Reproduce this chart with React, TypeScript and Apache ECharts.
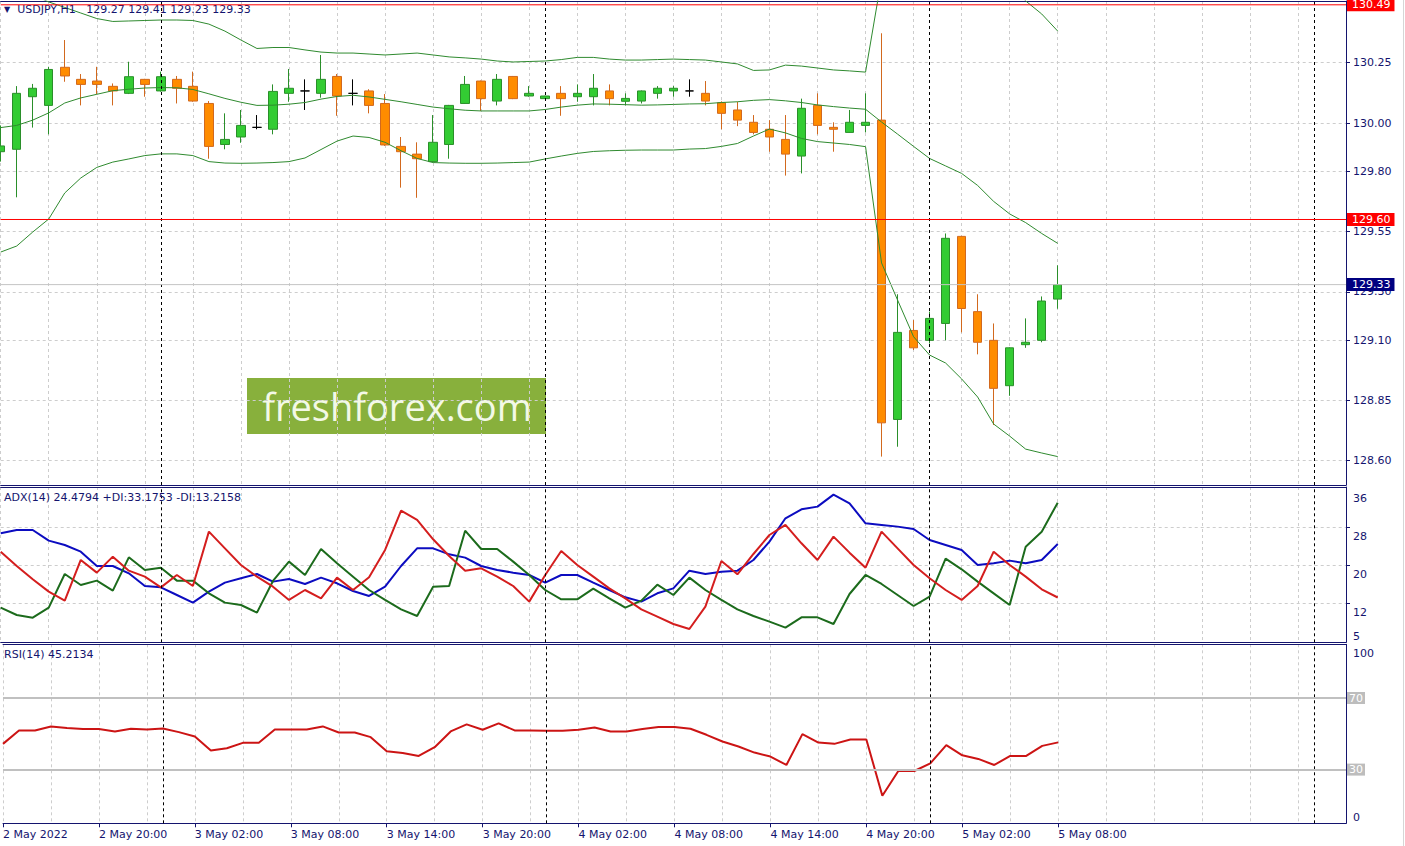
import React, { useEffect, useRef } from 'react';
import * as echarts from 'echarts';

const FONT = 'DejaVu Sans';
const NAVY = '#14146e';
const GRID_GREY = '#cdcdcd';

const categories = [
  '2 May 14:00', '2 May 15:00', '2 May 16:00', '2 May 17:00', '2 May 18:00', '2 May 19:00', '2 May 20:00', '2 May 21:00', '2 May 22:00', '2 May 23:00',
  '3 May 00:00', '3 May 01:00', '3 May 02:00', '3 May 03:00', '3 May 04:00', '3 May 05:00', '3 May 06:00', '3 May 07:00', '3 May 08:00', '3 May 09:00', '3 May 10:00', '3 May 11:00',
  '3 May 12:00', '3 May 13:00', '3 May 14:00', '3 May 15:00', '3 May 16:00', '3 May 17:00', '3 May 18:00', '3 May 19:00', '3 May 20:00', '3 May 21:00', '3 May 22:00', '3 May 23:00',
  '4 May 00:00', '4 May 01:00', '4 May 02:00', '4 May 03:00', '4 May 04:00', '4 May 05:00', '4 May 06:00', '4 May 07:00', '4 May 08:00', '4 May 09:00', '4 May 10:00', '4 May 11:00',
  '4 May 12:00', '4 May 13:00', '4 May 14:00', '4 May 15:00', '4 May 16:00', '4 May 17:00', '4 May 18:00', '4 May 19:00', '4 May 20:00', '4 May 21:00', '4 May 22:00', '4 May 23:00',
  '5 May 00:00', '5 May 01:00', '5 May 02:00', '5 May 03:00', '5 May 04:00', '5 May 05:00', '5 May 06:00', '5 May 07:00', '5 May 08:00', '5 May 09:00', '5 May 10:00', '5 May 11:00',
  '5 May 12:00', '5 May 13:00', '5 May 14:00', '5 May 15:00', '5 May 16:00', '5 May 17:00', '5 May 18:00', '5 May 19:00', '5 May 20:00', '5 May 21:00', '5 May 22:00', '5 May 23:00',
  '6 May 00:00', '6 May 01:00', '6 May 02:00',
];

const opens = [
  129.881, 129.891, 130.109, 130.073, 130.231, 130.181, 130.174, 130.152, 130.123, 130.181,
  130.133, 130.181, 130.152, 130.081, 129.911, 129.942, 129.982, 129.974, 130.123, 130.133,
  130.123, 130.193, 130.123, 130.133, 130.081, 129.903, 129.871, 129.84, 129.911, 130.081,
  130.174, 130.091, 130.193, 130.112, 130.101, 130.123, 130.109, 130.109, 130.133, 130.09,
  130.091, 130.123, 130.133, 130.133, 130.123, 130.084, 130.054, 130.003, 129.974, 129.932,
  129.863, 130.073, 129.982, 129.961, 129.99, 130.012, 128.771, 129.14, 129.099, 129.169,
  129.53, 129.218, 129.099, 128.911, 129.081, 129.099, 129.27,
];
const highs = [
  129.99, 130.153, 130.162, 130.233, 130.344, 130.203, 130.233, 130.164, 130.254, 130.183,
  130.213, 130.195, 130.213, 130.091, 130.04, 130.054, 130.033, 130.16, 130.224, 130.181,
  130.282, 130.203, 130.181, 130.14, 130.12, 129.942, 129.92, 130.033, 130.075, 130.195,
  130.176, 130.203, 130.195, 130.153, 130.113, 130.153, 130.16, 130.203, 130.16, 130.123,
  130.135, 130.153, 130.153, 130.181, 130.174, 130.09, 130.088, 130.033, 130.012, 130.033,
  130.101, 130.123, 130.003, 130.054, 130.123, 130.372, 129.29, 129.183, 129.218, 129.542,
  129.532, 129.29, 129.169, 129.07, 129.19, 129.281, 129.41,
];
const lows = [
  129.84, 129.692, 129.981, 129.953, 130.171, 130.073, 130.119, 130.073, 130.12, 130.109,
  130.13, 130.081, 130.088, 129.852, 129.891, 129.918, 129.974, 129.953, 130.088, 130.054,
  130.105, 130.03, 130.073, 130.04, 129.905, 129.732, 129.69, 129.837, 129.852, 130.079,
  130.05, 130.073, 130.099, 130.109, 130.1, 130.03, 130.088, 130.073, 130.073, 130.073,
  130.081, 130.101, 130.109, 130.109, 130.073, 129.974, 129.987, 129.953, 129.881, 129.782,
  129.791, 129.953, 129.881, 129.96, 129.961, 128.617, 128.658, 129.059, 129.086, 129.099,
  129.132, 129.041, 128.748, 128.869, 129.068, 129.091, 129.23,
];
const closes = [
  129.905, 130.123, 130.144, 130.222, 130.195, 130.16, 130.16, 130.133, 130.192, 130.16,
  130.192, 130.144, 130.091, 129.903, 129.932, 129.99, 129.982, 130.131, 130.144, 130.133,
  130.181, 130.112, 130.123, 130.073, 129.909, 129.881, 129.852, 129.92, 130.073, 130.16,
  130.101, 130.181, 130.101, 130.123, 130.112, 130.101, 130.123, 130.144, 130.101, 130.102,
  130.133, 130.144, 130.144, 130.133, 130.091, 130.04, 130.012, 129.961, 129.942, 129.871,
  130.061, 129.99, 129.974, 130.003, 130.003, 128.757, 129.132, 129.068, 129.19, 129.522,
  129.231, 129.091, 128.9, 129.068, 129.091, 129.262, 129.33,
];

const bbUpper = [
  130.614, 130.572, 130.531, 130.502, 130.479, 130.456, 130.433, 130.421, 130.423, 130.425,
  130.427, 130.427, 130.425, 130.41, 130.381, 130.344, 130.309, 130.313, 130.313, 130.303,
  130.294, 130.29, 130.29, 130.286, 130.282, 130.286, 130.29, 130.282, 130.274, 130.27,
  130.265, 130.257, 130.253, 130.255, 130.257, 130.263, 130.272, 130.272, 130.265, 130.261,
  130.261, 130.263, 130.265, 130.263, 130.261, 130.253, 130.245, 130.218, 130.22, 130.24,
  130.236, 130.228, 130.22, 130.216, 130.211, 130.6, 130.68, 130.72, 130.74, 130.76,
  130.74, 130.7, 130.64, 130.575, 130.506, 130.452, 130.381,
];
const bbMiddle = [
  129.981, 129.99, 130.012, 130.042, 130.083, 130.104, 130.119, 130.134, 130.14, 130.145,
  130.147, 130.146, 130.139, 130.121, 130.102, 130.086, 130.073, 130.074, 130.078, 130.085,
  130.099, 130.11, 130.115, 130.108, 130.098, 130.088, 130.077, 130.066, 130.059, 130.053,
  130.05, 130.05, 130.05, 130.05, 130.056, 130.066, 130.074, 130.079, 130.078, 130.076,
  130.074, 130.075, 130.077, 130.079, 130.08, 130.085, 130.088, 130.094, 130.097, 130.092,
  130.085, 130.075, 130.068, 130.062, 130.057, 130.004, 129.954, 129.903, 129.853, 129.822,
  129.791, 129.741, 129.675, 129.623, 129.587, 129.542, 129.501,
];
const bbLower = [
  129.465, 129.49, 129.548, 129.602, 129.71, 129.772, 129.816, 129.838, 129.851, 129.865,
  129.872, 129.872, 129.865, 129.84, 129.834, 129.833, 129.834, 129.836, 129.84, 129.855,
  129.89, 129.925, 129.946, 129.94, 129.92, 129.885, 129.853, 129.836, 129.834, 129.833,
  129.833, 129.834, 129.836, 129.838, 129.851, 129.863, 129.874, 129.882, 129.885, 129.887,
  129.888, 129.888, 129.888, 129.892, 129.894, 129.903, 129.915, 129.946, 129.975, 129.959,
  129.936, 129.923, 129.917, 129.911, 129.902, 129.42, 129.266, 129.114, 129.038, 129.005,
  128.939, 128.864, 128.752, 128.702, 128.648, 128.632, 128.617,
];

const adxValues = [
  26.73, 27.43, 27.43, 25.19, 24.28, 22.87, 19.85, 19.85, 18.31, 15.64,
  15.36, 13.75, 12.14, 14.45, 16.35, 17.26, 18.17, 16.56, 17.12, 16.07,
  17.4, 16.21, 14.59, 13.54, 15.5, 19.85, 23.57, 23.57, 22.31, 21.61,
  19.85, 19.01, 18.45, 17.96, 16.35, 17.96, 17.96, 16.35, 14.8, 13.26,
  12.35, 14.1, 15.15, 18.87, 18.17, 18.66, 18.87, 21.12, 24.98, 29.89,
  31.78, 32.35, 34.87, 33.05, 28.84, 28.49, 28.14, 27.64, 25.33, 24.28,
  23.22, 20.07, 20.42, 20.98, 20.42, 21.12, 24.48,
];
const plusDI = [
  11.08, 9.54, 8.98, 11.08, 18.17, 15.85, 16.77, 14.66, 21.68, 19.01,
  19.5, 16.77, 16.77, 14.1, 12.14, 11.64, 10.03, 16.7, 20.77, 17.96,
  23.43, 20.42, 17.61, 14.8, 12.7, 10.73, 9.33, 15.5, 15.64, 27.29,
  23.43, 23.43, 20.77, 17.96, 14.8, 12.84, 12.84, 15.08, 13.05, 11.08,
  12.56, 15.92, 13.75, 17.4, 14.8, 12.7, 10.73, 9.33, 8.14, 6.87,
  9.05, 9.05, 7.64, 13.96, 17.96, 16.07, 13.75, 11.43, 13.4, 21.4,
  19.15, 16.56, 14.1, 11.64, 23.92, 27.08, 33.18,
];
const minusDI = [
  22.87, 19.85, 17.05, 14.45, 12.56, 21.12, 18.45, 21.82, 18.87, 17.61,
  15.36, 17.96, 15.64, 27.08, 23.57, 20.07, 17.61, 15.5, 12.7, 14.8,
  13.05, 17.4, 14.8, 17.47, 23.22, 31.5, 29.54, 25.47, 21.96, 18.87,
  19.36, 17.61, 15.64, 12.35, 17.96, 23.01, 20.07, 17.61, 15.15, 13.05,
  10.73, 9.19, 7.64, 6.59, 11.29, 20.91, 18.1, 22.38, 26.38, 28.49,
  24.63, 21.12, 26.03, 22.66, 19.5, 27.08, 23.57, 20.07, 17.26, 14.8,
  12.7, 15.64, 22.87, 20.07, 17.61, 14.94, 13.22,
];
const rsiValues = [
  44.38, 51.88, 51.88, 54.12, 53.19, 52.62, 52.62, 51.31, 52.81, 52.44,
  53.0, 50.94, 48.5, 40.64, 41.95, 44.95, 44.95, 52.44, 52.44, 52.44,
  54.12, 50.75, 50.75, 48.13, 40.27, 39.33, 37.64, 42.51, 51.31, 55.25,
  52.25, 55.81, 51.88, 51.88, 51.69, 51.69, 52.25, 53.56, 51.31, 51.31,
  52.62, 53.75, 53.75, 52.81, 49.44, 45.69, 42.88, 39.51, 37.27, 32.59,
  49.81, 45.13, 44.38, 46.82, 46.82, 15.36, 29.22, 29.22, 33.52, 43.63,
  38.0, 35.96, 32.59, 37.64, 37.64, 43.25, 45.21,
];

const priceTicks = [128.6, 128.85, 129.1, 129.3, 129.55, 129.8, 130.0, 130.25];
const adxLabelTicks = [36, 28, 20, 12];
const adxGridTicks = [28, 20, 12];
const adxLowLabel = [5];
const rsiTopLabel = [100];
const rsiBottomLabel = [0];
const rsiLevels = [70, 30];
const redLevels = [130.49, 129.6];
const currentPrice = 129.33;
const daySeparators = [10, 34, 58, 82];
const lastBar = 66;

const headerText = 'USDJPY,H1   129.27 129.41 129.23 129.33';
const adxText = 'ADX(14) 24.4794 +DI:33.1753 -DI:13.2158';
const rsiText = 'RSI(14) 45.2134';

const PRICE_MIN = 128.4993;
const PRICE_MAX = 130.5058;
const ADX_MIN = 3.79;
const ADX_MAX = 36.48;

export default function App() {
  const ref = useRef<HTMLDivElement>(null);

  useEffect(() => {
    document.body.style.margin = '0';
    if (!ref.current) return;
    const chart = echarts.init(ref.current, undefined, { renderer: 'svg' });

    const candleData = opens.map((o, i) => [o, closes[i], lows[i], highs[i]]);
    const gridLeft = 0.7;
    const gridWidth = 1345.3;
    const firstCat = categories[0];
    const lastCat = categories[categories.length - 1];

    const vSplit = {
      show: true,
      interval: (i: number) => i % 3 === 0,
      lineStyle: { color: GRID_GREY, type: [3, 3] as any, width: 1 },
    };
    const navyLine = () => ({ show: true, onZero: false, lineStyle: { color: NAVY, width: 1 } });

    const bottomX = (gridIndex: number, labels: boolean) => ({
      type: 'category',
      gridIndex,
      data: categories,
      boundaryGap: false,
      axisLine: navyLine(),
      axisTick: labels
        ? { show: true, interval: (i: number) => i % 6 === 0 && i <= lastBar, length: 4, lineStyle: { color: NAVY } }
        : { show: false },
      axisLabel: labels
        ? {
            show: true,
            interval: (i: number) => i % 6 === 0 && i <= lastBar,
            formatter: (v: string, i: number) => (i === 0 ? '2 May 2022' : v),
            align: 'left',
            margin: 6,
            color: NAVY,
            fontSize: 11,
            fontFamily: FONT,
          }
        : { show: false },
      splitLine: vSplit,
    });
    const topX = (gridIndex: number) => ({
      type: 'category',
      gridIndex,
      data: categories,
      boundaryGap: false,
      position: 'top',
      axisLine: navyLine(),
      axisTick: { show: false },
      axisLabel: { show: false },
      splitLine: { show: false },
    });

    const sepMarkLine = () => ({
      silent: true,
      symbol: ['none', 'none'],
      lineStyle: { color: '#000000', type: [3, 3], width: 1 },
      label: { show: false },
      data: daySeparators.map((i) => ({ xAxis: categories[i] })),
    });

    const boxLabel = (bg: string) => ({
      show: true,
      position: 'end',
      formatter: (p: any) => Number(p.value).toFixed(2),
      color: '#ffffff',
      backgroundColor: bg,
      padding: [1, 4, 1, 5],
      distance: 1,
      fontSize: 11,
      fontFamily: FONT,
    });

    const levelSeries = (name: string, v: number, color: string, bg: string) => ({
      name,
      type: 'line',
      xAxisIndex: 0,
      yAxisIndex: 0,
      data: [
        [firstCat, v],
        [lastCat, v],
      ],
      symbol: 'none',
      color,
      lineStyle: { color, width: 1, type: 'solid' },
      z: 10,
      markLine: {
        silent: true,
        symbol: ['none', 'none'],
        lineStyle: { color: 'rgba(255,255,255,0)', width: 1 },
        label: boxLabel(bg),
        data: [{ yAxis: v }],
      },
    });

    const labelTopPad = [4, 0, 0, 0];

    const option: any = {
      animation: false,
      backgroundColor: '#ffffff',
      textStyle: { fontFamily: FONT },
      title: [
        {
          text: '{t|▼}  ' + headerText,
          left: 4,
          top: 4,
          padding: 0,
          textStyle: {
            fontSize: 11,
            fontWeight: 'normal',
            color: NAVY,
            fontFamily: FONT,
            rich: { t: { fontSize: 8, color: NAVY, fontFamily: FONT } },
          },
        },
        {
          text: adxText,
          left: 4,
          top: 492,
          padding: 0,
          textStyle: { fontSize: 11, fontWeight: 'normal', color: NAVY, fontFamily: FONT },
        },
        {
          text: rsiText,
          left: 4,
          top: 649,
          padding: 0,
          textStyle: { fontSize: 11, fontWeight: 'normal', color: NAVY, fontFamily: FONT },
        },
      ],
      grid: [
        { left: gridLeft, width: gridWidth, top: 1, height: 484 },
        { left: gridLeft, width: gridWidth, top: 487, height: 155.3 },
        { left: gridLeft, width: gridWidth, top: 644.3, height: 179 },
      ],
      xAxis: [bottomX(0, false), topX(0), bottomX(1, false), topX(1), bottomX(2, true), topX(2)],
      yAxis: [
        {
          type: 'value',
          gridIndex: 0,
          position: 'right',
          min: PRICE_MIN,
          max: PRICE_MAX,
          axisLine: navyLine(),
          axisTick: { show: true, customValues: priceTicks, length: 4, lineStyle: { color: NAVY } },
          axisLabel: {
            customValues: priceTicks,
            formatter: (v: number) => v.toFixed(2),
            color: NAVY,
            fontSize: 11,
            fontFamily: FONT,
            margin: 7,
          },
          splitLine: { show: true, lineStyle: { color: GRID_GREY, type: [3, 3], width: 1 } },
        },
        {
          type: 'value',
          gridIndex: 1,
          position: 'right',
          min: ADX_MIN,
          max: ADX_MAX,
          axisLine: navyLine(),
          axisTick: { show: true, customValues: adxGridTicks, length: 4, lineStyle: { color: NAVY } },
          axisLabel: {
            customValues: adxLabelTicks,
            color: NAVY,
            fontSize: 11,
            fontFamily: FONT,
            margin: 7,
            verticalAlign: 'top',
            padding: labelTopPad,
          },
          splitLine: { show: true, lineStyle: { color: GRID_GREY, type: [3, 3], width: 1 } },
        },
        {
          type: 'value',
          gridIndex: 1,
          position: 'right',
          min: ADX_MIN,
          max: ADX_MAX,
          axisLine: { show: false },
          axisTick: { show: false },
          axisLabel: {
            customValues: adxLowLabel,
            color: NAVY,
            fontSize: 11,
            fontFamily: FONT,
            margin: 7,
            verticalAlign: 'middle',
          },
          splitLine: { show: false },
        },
        {
          type: 'value',
          gridIndex: 2,
          position: 'right',
          min: 0,
          max: 100,
          axisLine: navyLine(),
          axisTick: { show: false },
          axisLabel: {
            customValues: rsiTopLabel,
            color: NAVY,
            fontSize: 11,
            fontFamily: FONT,
            margin: 7,
            verticalAlign: 'top',
            padding: labelTopPad,
          },
          splitLine: { show: false },
        },
        {
          type: 'value',
          gridIndex: 2,
          position: 'right',
          min: 0,
          max: 100,
          axisLine: { show: false },
          axisTick: { show: false },
          axisLabel: {
            customValues: rsiBottomLabel,
            color: NAVY,
            fontSize: 11,
            fontFamily: FONT,
            margin: 7,
            verticalAlign: 'bottom',
          },
          splitLine: { show: false },
        },
      ],
      series: [
        levelSeries('Current price', currentPrice, '#c4c4c4', '#000080'),
        ...redLevels.map((v, i) => levelSeries('Level ' + (i + 1), v, '#ff0000', '#ff0000')),
        {
          name: 'USDJPY',
          type: 'candlestick',
          xAxisIndex: 0,
          yAxisIndex: 0,
          data: candleData,
          barWidth: 9,
          z: 3,
          itemStyle: {
            color: '#33cc33',
            color0: '#ff8c00',
            borderColor: '#2a8f2a',
            borderColor0: '#d2691e',
            borderColorDoji: '#000000',
            borderWidth: 1,
          },
          markLine: sepMarkLine(),
        },
        ...[bbUpper, bbMiddle, bbLower].map((d, i) => ({
          name: ['BB upper', 'BB middle', 'BB lower'][i],
          type: 'line',
          xAxisIndex: 0,
          yAxisIndex: 0,
          data: d,
          symbol: 'none',
          color: '#2f8a2f',
          lineStyle: { color: '#2f8a2f', width: 1 },
          z: 4,
        })),
        {
          name: 'ADX',
          type: 'line',
          xAxisIndex: 2,
          yAxisIndex: 1,
          data: adxValues,
          symbol: 'none',
          lineStyle: { color: '#0c0cc0', width: 2 },
          markLine: sepMarkLine(),
        },
        {
          name: '+DI',
          type: 'line',
          xAxisIndex: 2,
          yAxisIndex: 1,
          data: plusDI,
          symbol: 'none',
          lineStyle: { color: '#1c6b1c', width: 2 },
        },
        {
          name: '-DI',
          type: 'line',
          xAxisIndex: 2,
          yAxisIndex: 1,
          data: minusDI,
          symbol: 'none',
          lineStyle: { color: '#d41e1e', width: 2 },
        },
        {
          name: 'RSI',
          type: 'line',
          xAxisIndex: 4,
          yAxisIndex: 3,
          data: rsiValues,
          symbol: 'none',
          lineStyle: { color: '#cc1414', width: 2 },
          z: 3,
          markLine: sepMarkLine(),
        },
        {
          name: 'RSI levels',
          type: 'line',
          xAxisIndex: 4,
          yAxisIndex: 3,
          data: [],
          symbol: 'none',
          z: 2,
          markLine: {
            silent: true,
            symbol: ['none', 'none'],
            lineStyle: { color: '#c0c0c0', type: 'solid', width: 2 },
            label: {
              show: true,
              position: 'end',
              formatter: (p: any) => String(p.value),
              color: '#ffffff',
              backgroundColor: '#bdbdbd',
              padding: [1, 2, 0, 2],
              distance: 1,
              fontSize: 11,
              fontFamily: FONT,
            },
            data: rsiLevels.map((v) => ({ yAxis: v })),
          },
        },
      ],
      graphic: [
        {
          type: 'group',
          z: 100,
          children: [
            {
              type: 'rect',
              shape: { x: 247, y: 378, width: 299, height: 56 },
              style: { fill: '#88b03c' },
            },
            {
              type: 'text',
              x: 397,
              y: 406,
              style: {
                text: 'freshforex.com',
                fill: '#f3f9e6',
                fontSize: 38,
                fontFamily: 'Open Sans',
                align: 'center',
                verticalAlign: 'middle',
              },
            },
          ],
        },
        {
          type: 'line',
          z: 100,
          shape: { x1: 1403.5, y1: 0, x2: 1403.5, y2: 846 },
          style: { stroke: '#d6d6d6', lineWidth: 1 },
        },
      ],
    };

    chart.setOption(option);
    return () => chart.dispose();
  }, []);

  return (
    <div
      ref={ref}
      style={{ position: 'absolute', left: 0, top: 0, width: 1405, height: 846, background: '#ffffff' }}
    />
  );
}
